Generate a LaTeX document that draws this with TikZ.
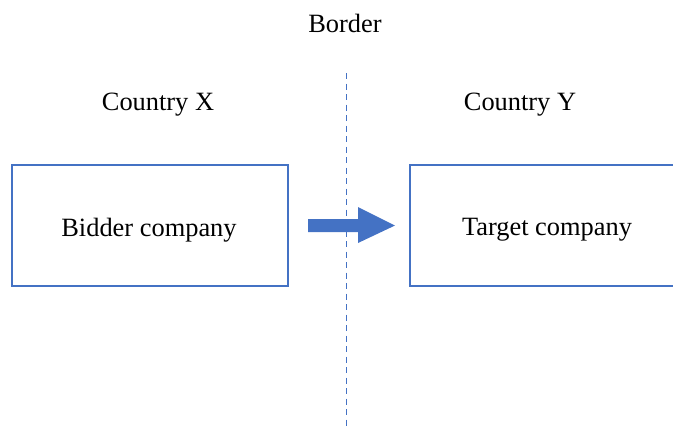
\documentclass[tikz,border=0pt]{standalone}
\usepackage{fontspec}
\setmainfont{Liberation Serif}
\definecolor{officeblue}{HTML}{4472C4}
\tikzset{
  company/.style={draw=officeblue, line width=2pt, minimum width=276pt, minimum height=121pt, inner sep=0pt},
  label/.style={inner sep=0pt, font=\fontsize{26.4}{30}\selectfont},
  borderline/.style={draw=officeblue, line width=1.2pt, dash pattern=on 6pt off 4.5pt},
}
\begin{document}
\begin{tikzpicture}[x=1pt, y=-1pt]
  \useasboundingbox (0,0) rectangle (673,429);
  \clip (0,0) rectangle (673,429);
  % labels
  \node[label] (border) at (345,23) {Border};
  \node[label] (cx) at (158,105) {Country X};
  \node[label] (cy) at (520,105) {Country Y};
  % border line
  \coordinate (btop) at (346.5,73);
  \coordinate (bbot) at (346.5,429);
  \draw[borderline] (btop) -- (bbot);
  % companies
  \node[company] (bidder) at (150,225.5) {};
  \node[label] (biddertext) at (149,230) {Bidder company};
  \node[company] (target) at (547.5,225.5) {};
  \node[label] (targettext) at (547,230) {Target company};
  % block arrow
  \fill[officeblue] (308,219) -- (358,219) -- (358,207) -- (395,225.5)
    -- (358,243) -- (358,232) -- (308,232) -- cycle;
\end{tikzpicture}
\end{document}
